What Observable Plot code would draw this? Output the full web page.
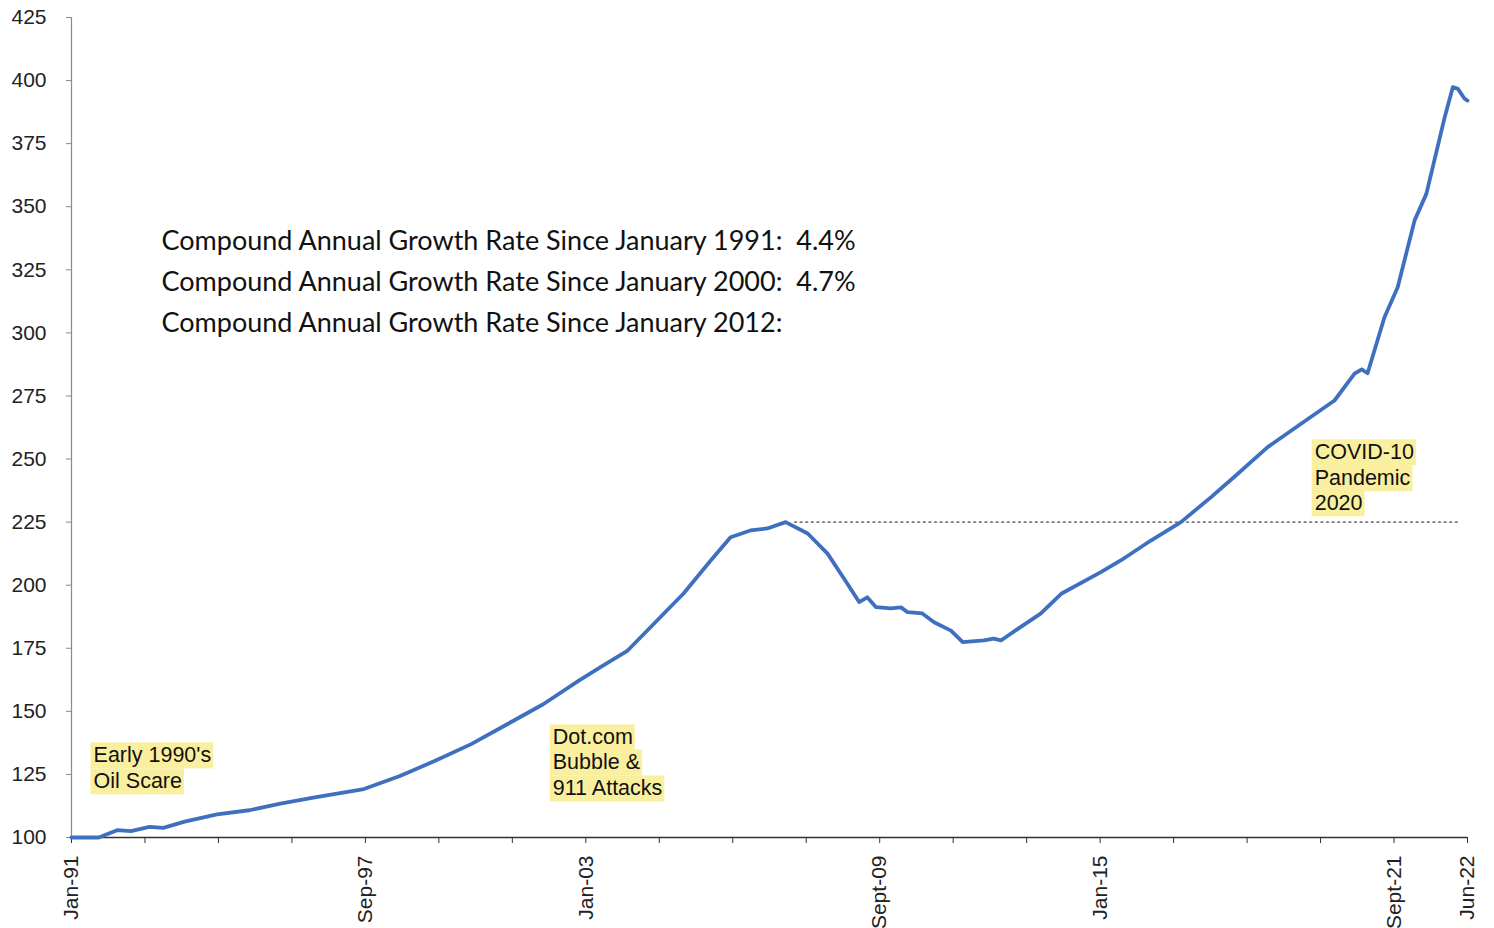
<!DOCTYPE html>
<html>
<head>
<meta charset="utf-8">
<script src="https://cdn.jsdelivr.net/npm/d3@7"></script>
<script src="https://cdn.jsdelivr.net/npm/@observablehq/plot@0.6"></script>
<style>
  html, body { margin: 0; padding: 0; background: #fff; }
  #chart { width: 1494px; height: 928px; }
</style>
</head>
<body>
<div id="chart"></div>
<script>
// X positions are in units of the category-axis tick interval (0 = Jan-91, 19 = Jun-22)
const xTicks = d3.range(0, 20);
const xTickLabels = ["Jan-91", "", "", "", "Sep-97", "", "", "Jan-03", "", "", "", "Sept-09", "", "", "Jan-15", "", "", "", "Sept-21", "Jun-22"];
const yTicks = d3.range(100, 426, 25);

const seriesX = [0, 0.37, 0.62, 0.81, 1.06, 1.25, 1.54, 1.98, 2.42, 2.86, 3.35, 3.98, 4.47, 4.95, 5.44, 5.93, 6.42, 6.9, 7.2, 7.57, 7.97, 8.33, 8.7, 8.97, 9.24, 9.47, 9.72, 10.02, 10.29, 10.56, 10.72, 10.83, 10.95, 11.15, 11.29, 11.38, 11.58, 11.74, 11.97, 12.13, 12.42, 12.55, 12.65, 12.88, 13.19, 13.47, 14.01, 14.28, 14.69, 15.1, 15.51, 15.82, 16.28, 16.73, 17.19, 17.46, 17.56, 17.64, 17.87, 18.05, 18.28, 18.44, 18.69, 18.8, 18.87, 18.96, 19.0];
const seriesY = [100, 100, 102.9, 102.5, 104.2, 103.8, 106.3, 109.2, 110.8, 113.5, 116.1, 119.2, 124.4, 130.4, 137.0, 144.9, 152.8, 162.1, 167.5, 174.1, 186.0, 196.7, 209.8, 219.0, 221.7, 222.5, 225.0, 220.5, 212.5, 200.6, 193.3, 195.2, 191.3, 190.8, 191.2, 189.3, 188.8, 185.3, 182.0, 177.4, 178.1, 178.8, 178.1, 182.7, 188.7, 196.6, 205.2, 209.8, 217.7, 225.0, 234.9, 242.8, 254.7, 263.9, 273.2, 283.8, 285.5, 284.0, 306.2, 318.1, 344.6, 355.1, 385.5, 397.4, 396.7, 392.8, 392.1];

const peakLevel = 225;
const peakSpan = [9.85, 18.88];

const cagrLines = [
  "Compound Annual Growth Rate Since January 1991:\u00a0 4.4%",
  "Compound Annual Growth Rate Since January 2000:\u00a0 4.7%",
  "Compound Annual Growth Rate Since January 2012:"
];
const cagrX = 1.225;
const cagrY = [336.2, 320.0, 303.7];

const noteLines = ["Early 1990's", "Oil Scare", "Dot.com", "Bubble &", "911 Attacks", "COVID-10", "Pandemic", "2020"];
const noteX = [0.30, 0.30, 6.55, 6.55, 6.55, 16.92, 16.92, 16.92];
const noteY = [132.5, 122.2, 139.6, 129.7, 119.4, 252.6, 242.3, 232.4];

const series = seriesX.map((x, i) => ({x, y: seriesY[i]}));
const cagr = cagrLines.map((t, i) => ({t, x: cagrX, y: cagrY[i]}));
const notes = noteLines.map((t, i) => ({t, x: noteX[i], y: noteY[i]}));

const chart = Plot.plot({
  width: 1494,
  height: 928,
  marginLeft: 71,
  marginRight: 27,
  marginTop: 17,
  marginBottom: 91,
  x: {domain: [0, 19]},
  y: {domain: [100, 425]},
  style: {fontFamily: "'Liberation Sans', Arial, sans-serif", fontSize: "21px", color: "#222", background: "#fff"},
  marks: [
    Plot.axisY({ticks: yTicks, tickSize: 5, tickPadding: 20, label: null, stroke: "#8a8a8a", fill: "#222"}),
    Plot.ruleX([0], {stroke: "#8a8a8a", strokeWidth: 1.2}),
    Plot.axisX({ticks: xTicks, tickFormat: d => xTickLabels[d], tickRotate: -90, tickSize: 6, tickPadding: 12, label: null, stroke: "#333", fill: "#222"}),
    Plot.ruleY([100], {stroke: "#333", strokeWidth: 1.6}),
    Plot.ruleY([peakLevel], {x1: peakSpan[0], x2: peakSpan[1], stroke: "#7a7a7a", strokeWidth: 1.8, strokeDasharray: "1.6,4", strokeLinecap: "round"}),
    Plot.line(series, {x: "x", y: "y", stroke: "#3f70c0", strokeWidth: 3.8, strokeLinejoin: "round", strokeLinecap: "round"}),
    Plot.text(cagr, {x: "x", y: "y", text: "t", textAnchor: "start", lineAnchor: "middle", fontFamily: "Lato, 'Open Sans', sans-serif", fontSize: 27, fill: "#111"}),
    Plot.text(notes, {x: "x", y: "y", text: "t", textAnchor: "start", lineAnchor: "middle", fontFamily: "'Liberation Sans', Arial, sans-serif", fontSize: 21.5, fill: "#111"})
  ]
});

document.getElementById("chart").appendChild(chart);

// yellow highlight behind each annotation line
const noteSet = new Set(noteLines);
const ns = "http://www.w3.org/2000/svg";
chart.querySelectorAll("text").forEach(t => {
  if (!noteSet.has(t.textContent)) return;
  const b = t.getBBox();
  const r = document.createElementNS(ns, "rect");
  const cy = b.y + b.height / 2;
  r.setAttribute("x", b.x - 3);
  r.setAttribute("y", cy - 13);
  r.setAttribute("width", b.width + 5);
  r.setAttribute("height", 26);
  r.setAttribute("fill", "#f9ef9f");
  const tr = t.getAttribute("transform");
  if (tr) r.setAttribute("transform", tr);
  t.parentNode.insertBefore(r, t);
});
</script>
</body>
</html>
